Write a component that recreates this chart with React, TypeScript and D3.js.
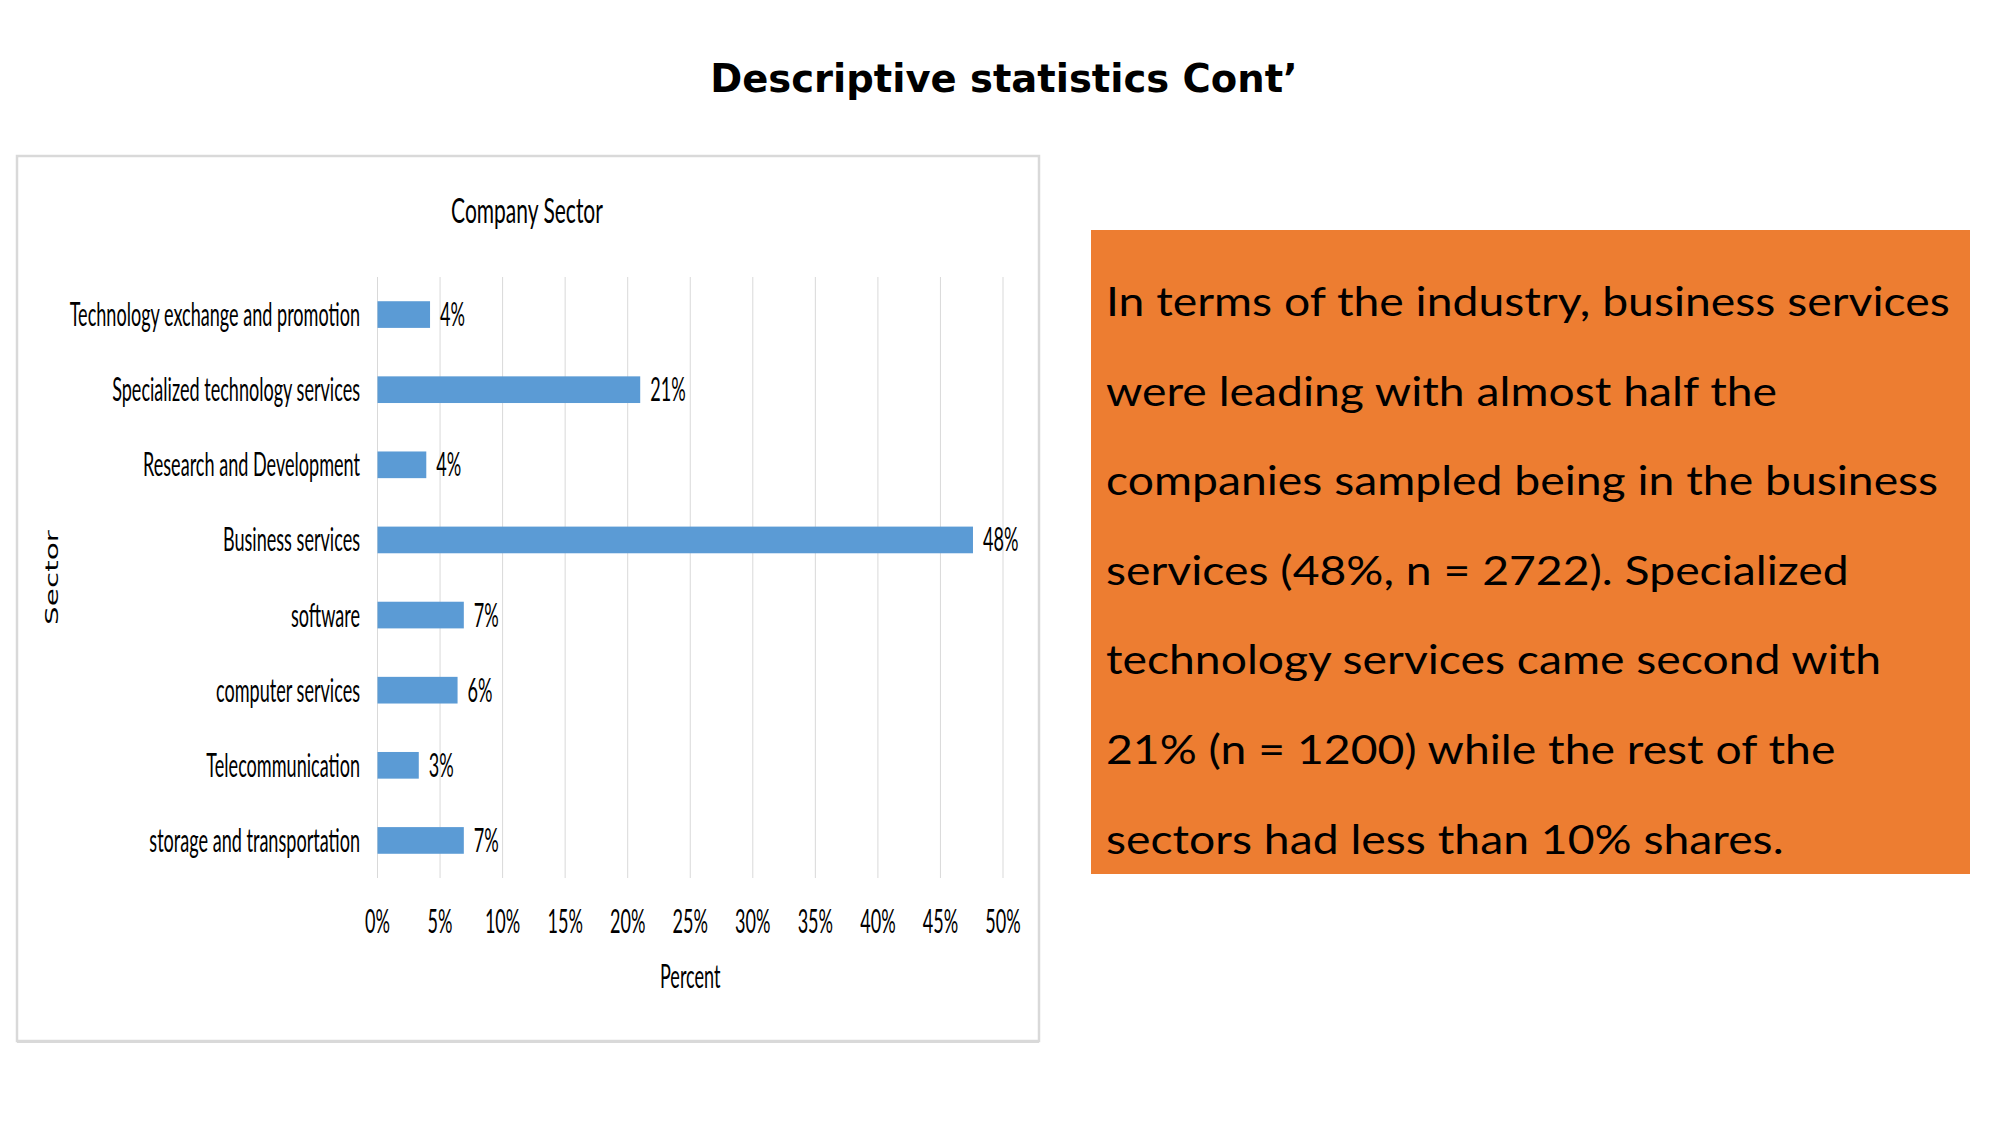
import React from "react";
import * as d3 from "d3";

const categories = [
  "Technology exchange and promotion",
  "Specialized technology services",
  "Research and Development",
  "Business services",
  "software",
  "computer services",
  "Telecommunication",
  "storage and transportation",
];
const values = [4.2, 21.0, 3.9, 47.6, 6.9, 6.4, 3.3, 6.9];
const xTicks = [0, 5, 10, 15, 20, 25, 30, 35, 40, 45, 50];
const pageTitle = "Descriptive statistics Cont\u2019";
const chartTitle = "Company Sector";
const xAxisTitle = "Percent";
const yAxisTitle = "Sector";
const noteLines = [
  "In terms of the industry, business services",
  "were leading with almost half the",
  "companies sampled being in the business",
  "services (48%, n = 2722). Specialized",
  "technology services came second with",
  "21% (n = 1200) while the rest of the",
  "sectors had less than 10% shares.",
];

const W = 2001;
const H = 1125;
const PLOT = { left: 377.5, right: 1003, top: 277, bottom: 878 };
const CH_FONT = "Lato, 'Open Sans', sans-serif";
const SX = 0.565;

export default function App() {
  const x = d3.scaleLinear().domain([0, 50]).range([PLOT.left, PLOT.right]);
  const y = d3
    .scaleBand<string>()
    .domain(categories)
    .range([PLOT.top, PLOT.bottom])
    .paddingInner(0.645)
    .paddingOuter(0.3225);
  const fmt = (v: number) => d3.format(".0%")(v / 100);

  const sText = (
    key: string,
    tx: number,
    ty: number,
    s: string,
    anchor: "start" | "middle" | "end",
    size = 32,
    sx = SX
  ) => (
    <text
      key={key}
      transform={`translate(${tx},${ty}) scale(${sx},1)`}
      textAnchor={anchor}
      fontFamily={CH_FONT}
      fontSize={size}
      fill="#000"
    >
      {s}
    </text>
  );

  return (
    <svg
      width={W}
      height={H}
      style={{ position: "absolute", left: 0, top: 0, background: "#fff" }}
    >
      <rect x={0} y={0} width={W} height={H} fill="#fff" />
      <text
        x={1004}
        y={92}
        textAnchor="middle"
        fontFamily="'DejaVu Sans', sans-serif"
        fontWeight="bold"
        fontSize={38.5}
        fill="#000"
      >
        {pageTitle}
      </text>

      {/* chart frame */}
      <rect
        x={17}
        y={156}
        width={1022}
        height={885}
        fill="#fff"
        stroke="#d9d9d9"
        strokeWidth={2.5}
      />
      <line x1={17} x2={1039} y1={1041.5} y2={1041.5} stroke="#d9d9d9" strokeWidth={3} />

      {sText("ct", 527, 223, chartTitle, "middle", 35, 0.6)}

      {xTicks.map((t) => (
        <line
          key={"g" + t}
          x1={x(t)}
          x2={x(t)}
          y1={PLOT.top}
          y2={PLOT.bottom}
          stroke="#d9d9d9"
          strokeWidth={1}
        />
      ))}

      {categories.map((c, i) => (
        <rect
          key={"b" + i}
          x={x(0)}
          y={y(c)!}
          width={x(values[i]) - x(0)}
          height={y.bandwidth()}
          fill="#5b9bd5"
        />
      ))}

      {categories.map((c, i) =>
        sText("c" + i, 360, y(c)! + y.bandwidth() / 2 + 11.5, c, "end")
      )}
      {categories.map((c, i) =>
        sText(
          "v" + i,
          x(values[i]) + 10,
          y(c)! + y.bandwidth() / 2 + 11.5,
          fmt(values[i]),
          "start"
        )
      )}

      {xTicks.map((t) => sText("t" + t, x(t), 933, fmt(t), "middle"))}
      {sText("xt", (PLOT.left + PLOT.right) / 2, 988, xAxisTitle, "middle")}

      <text
        transform={`translate(58,${(PLOT.top + PLOT.bottom) / 2}) scale(1,1.64) rotate(-90)`}
        textAnchor="middle"
        fontFamily="'DejaVu Sans', sans-serif"
        fontSize={18}
        fill="#000"
      >
        {yAxisTitle}
      </text>

      {/* note box */}
      <rect x={1091} y={230} width={879} height={644} fill="#ed7d31" />
      {noteLines.map((l, i) => (
        <text
          key={"n" + i}
          transform={`translate(1106,${316 + i * 89.6}) scale(1.157,1)`}
          fontFamily={CH_FONT}
          fontSize={40}
          fill="#000"
        >
          {l}
        </text>
      ))}
    </svg>
  );
}
